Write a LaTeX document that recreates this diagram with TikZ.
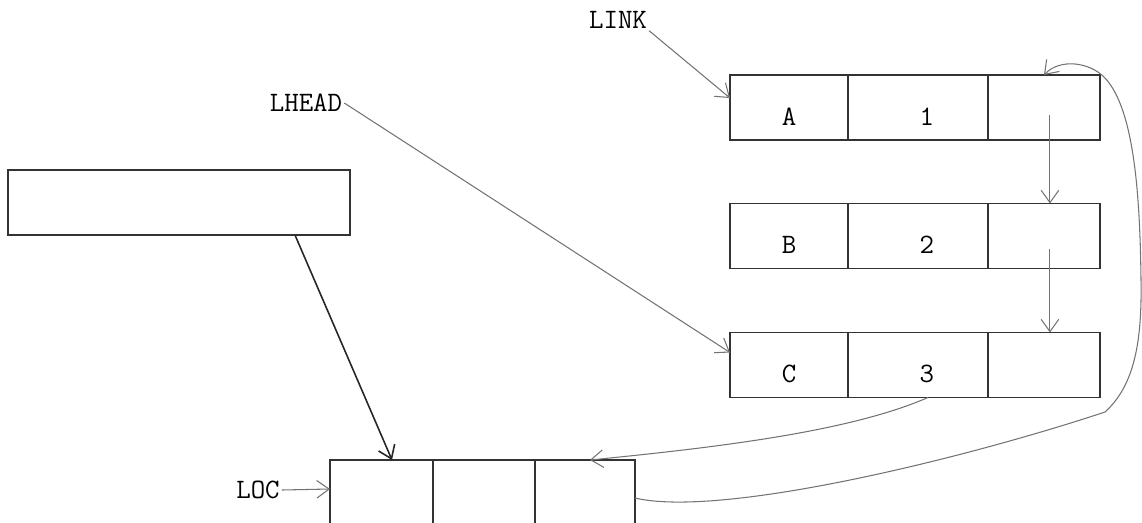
\documentclass[tikz,border=0pt]{standalone}
\usepackage{tikz}
\usetikzlibrary{arrows.meta,positioning}

\begin{document}
\begin{tikzpicture}[
    x=0.02cm, y=-0.02cm,
    cell/.style={rectangle, draw=black!80, line width=1pt, minimum height=1.3cm,
                 inner sep=0pt, outer sep=0pt, text height=0.7cm, text depth=0pt,
                 font=\fontsize{16}{19}\selectfont\ttfamily},
    numcell/.style={cell, text width=0.64cm, align=right},
    loccell/.style={cell, minimum height=1.6cm},
    lbl/.style={font=\fontsize{16}{19}\selectfont\ttfamily, inner sep=1pt},
    ptr/.style={-{Straight Barb[length=7pt,width=10pt]}, draw=black!55, line width=0.6pt},
    darkptr/.style={ptr, draw=black!85, line width=0.9pt}
]
\useasboundingbox (0,0) rectangle (1142,522);
\clip (0,0) rectangle (1142,522);

%% ---- Labels ----
\node[lbl] (link)  at (618, 20) {LINK};
\node[lbl] (lhead) at (306,103) {LHEAD};
\node[lbl] (loc)   at (258,490) {LOC};

%% ---- Records A, B, C ----
\node[cell, minimum width=2.36cm] (a1) at (789,107.5) {A};
\node[numcell, minimum width=2.80cm, right=0pt of a1] (a2) {1};
\node[cell, minimum width=2.24cm, right=0pt of a2] (a3) {};

\node[cell, minimum width=2.36cm] (b1) at (789,236) {B};
\node[numcell, minimum width=2.80cm, right=0pt of b1] (b2) {2};
\node[cell, minimum width=2.24cm, right=0pt of b2] (b3) {};

\node[cell, minimum width=2.36cm] (c1) at (789,365) {C};
\node[numcell, minimum width=2.80cm, right=0pt of c1] (c2) {3};
\node[cell, minimum width=2.24cm, right=0pt of c2] (c3) {};

%% ---- Left box and LOC record ----
\node[cell, minimum width=6.84cm] (store) at (179,202.5) {};

\node[loccell, minimum width=2.06cm] (loc1) at (381.5,500) {};
\node[loccell, minimum width=2.04cm, right=0pt of loc1] (loc2) {};
\node[loccell, minimum width=2.00cm, right=0pt of loc2] (loc3) {};

%% ---- Pointers ----
\draw[ptr] (link.south east) -- ([yshift=-0.46cm]a1.north west);
\draw[ptr] (lhead.east) -- ([yshift=-0.4cm]c1.north west);
\draw[ptr] (loc.east) -- ([yshift=0.22cm]loc1.west);
\draw[ptr] ([xshift=0.12cm,yshift=-0.15cm]a3.center) -- ([xshift=0.12cm]b3.north);
\draw[ptr] ([xshift=0.12cm,yshift=-0.25cm]b3.center) -- ([xshift=0.12cm]c3.north);
\draw[darkptr] ([xshift=-1.1cm]store.south east) -- ([xshift=0.21cm]loc1.north);
\draw[ptr] ([xshift=0.2cm]c2.south) .. controls +(-80,35) and +(120,-12) .. ([xshift=0.1cm]loc3.north);
\draw[ptr] ([yshift=0.04cm]loc3.east)
    .. controls (720,518) and (960,460) .. (1105,412)
    .. controls (1135,385) and (1142,340) .. (1141,280)
    .. controls (1140,200) and (1135,110) .. (1105,78)
    .. controls (1090,62) and (1060,58) .. (a3.north);

\end{tikzpicture}
\end{document}
